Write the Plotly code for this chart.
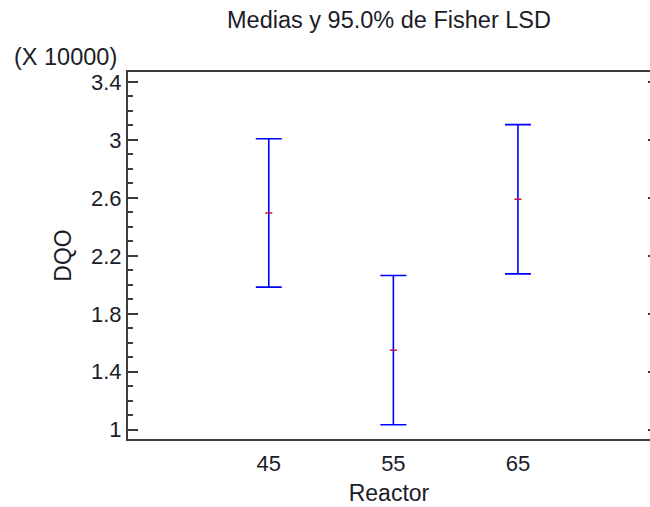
import plotly.graph_objects as go

# Data (DQO values, in original units)
reactor = [45, 55, 65]
means = [24960, 15490, 25910]
lsd_half = [5120, 5150, 5150]

ytick_vals = [10000, 14000, 18000, 22000, 26000, 30000, 34000]
ytick_text = ["1", "1.4", "1.8", "2.2", "2.6", "3", "3.4"]
xtick_vals = [45, 55, 65]
xtick_text = ["45", "55", "65"]

W, H = 650, 507
L, R, T, B = 128, 0, 72, 68
FONT = "Liberation Sans, Arial, sans-serif"
TXT = "#1c1c28"
AX = "#3c3c3c"

fig = go.Figure()
fig.add_trace(go.Scatter(
    x=reactor, y=means, mode="markers",
    marker=dict(symbol="line-ew", size=5, color="#c0103a",
                line=dict(color="#c0103a", width=1.5)),
    error_y=dict(type="data", array=lsd_half, visible=True,
                 color="#0000ff", thickness=1.6, width=13),
    showlegend=False, hoverinfo="x+y",
))
# invisible trace to activate right-hand tick axis
fig.add_trace(go.Scatter(
    x=reactor, y=means, yaxis="y2", mode="markers",
    marker=dict(opacity=0), showlegend=False, hoverinfo="skip",
))

yr = [9360, 34690]
fig.update_layout(
    width=W, height=H,
    margin=dict(l=L, r=R, t=T, b=B, pad=0),
    paper_bgcolor="white", plot_bgcolor="white",
    font=dict(family=FONT, size=22, color=TXT),
    title=dict(text="Medias y 95.0% de Fisher LSD", x=0.5, xref="paper",
               xanchor="center", y=1 - 20 / H, yanchor="middle",
               font=dict(size=23.5, color=TXT)),
    xaxis=dict(range=[33.7, 75.6], tickvals=xtick_vals, ticktext=xtick_text,
               ticks="", showline=True, linecolor=AX, linewidth=2,
               mirror=True, showgrid=False, zeroline=False,
               ticklabelstandoff=4,
               title=dict(text="Reactor", standoff=9, font=dict(size=23))),
    yaxis=dict(range=yr, tickvals=ytick_vals, ticktext=ytick_text,
               ticks="inside", ticklen=10, tickwidth=1.5, tickcolor=AX,
               minor=dict(dtick=1000, tick0=0, ticks="inside", ticklen=5,
                          tickwidth=1.5, tickcolor=AX),
               showline=True, linecolor=AX, linewidth=2,
               showgrid=False, zeroline=False, ticklabelstandoff=0,
               title=dict(text="DQO", standoff=13, font=dict(size=23))),
    yaxis2=dict(range=yr, overlaying="y", side="right", anchor="x",
                tickvals=ytick_vals, showticklabels=False,
                ticks="inside", ticklen=2, tickwidth=1.5, tickcolor=AX,
                showline=False, showgrid=False, zeroline=False),
    annotations=[dict(text="(X 10000)", xref="paper", yref="paper",
                      x=(12 - L) / (W - L - R), y=1 + (T - 57) / (H - T - B),
                      xanchor="left", yanchor="middle", showarrow=False,
                      font=dict(size=23.5, color=TXT))],
)

fig.write_html("out.html", config={"displayModeBar": False},
               post_script="document.body.style.margin='0';document.body.style.padding='0';")
